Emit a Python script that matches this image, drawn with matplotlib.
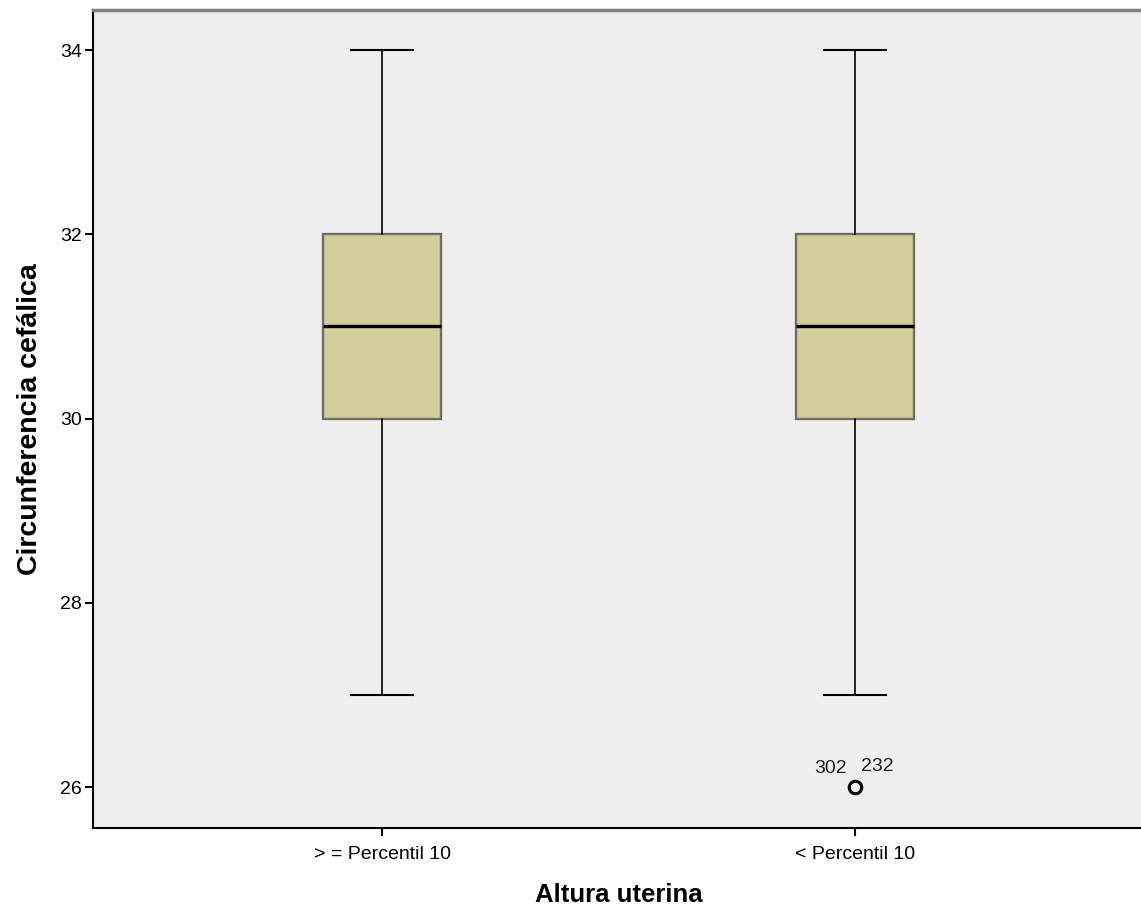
import matplotlib
matplotlib.use("Agg")
import matplotlib.pyplot as plt

plt.rcParams['font.family'] = ['Liberation Sans', 'DejaVu Sans']

# datos
grupos = ['> = Percentil 10', '< Percentil 10']
mediana = [31, 31]
q1 = [30, 30]
q3 = [32, 32]
bigote_inf = [27, 27]
bigote_sup = [34, 34]
atipicos = [[], [26]]
etiquetas_atipicos = [[], ['302', '232']]

stats = []
for i in range(len(grupos)):
    stats.append({'med': mediana[i], 'q1': q1[i], 'q3': q3[i],
                  'whislo': bigote_inf[i], 'whishi': bigote_sup[i],
                  'fliers': atipicos[i], 'label': grupos[i]})

fig = plt.figure(figsize=(11.41, 9.17), dpi=100)
ax = fig.add_axes([93/1141, 89/917, 1 - 93/1141 + 3/1141, 818/917])
ax.set_facecolor('#efefef')

pos = list(range(len(grupos)))
ax.bxp(stats, positions=pos, widths=0.25, patch_artist=True,
       boxprops=dict(facecolor='#d3ce98', edgecolor='#6e6e64', linewidth=1.7),
       medianprops=dict(color='black', linewidth=2.4),
       whiskerprops=dict(color='black', linewidth=1.2),
       capprops=dict(color='black', linewidth=1.5),
       capwidths=0.13,
       flierprops=dict(marker='o', markersize=9, markerfacecolor='none',
                       markeredgecolor='black', markeredgewidth=2.2))

# etiquetas de los casos atipicos
for i in range(len(grupos)):
    for v in atipicos[i]:
        labs = etiquetas_atipicos[i]
        ax.annotate(labs[0], (pos[i], v), xytext=(-6, 7), textcoords='offset points',
                    ha='right', va='bottom', fontsize=14, color='#222222')
        ax.annotate(labs[1], (pos[i], v), xytext=(4, 9), textcoords='offset points',
                    ha='left', va='bottom', fontsize=14, color='#222222')

ax.set_xlim(-0.611, 1.611)
ax.set_ylim(25.555, 34.435)
ax.set_yticks([26, 28, 30, 32, 34])
ax.set_xticks(pos)
ax.set_xticklabels(grupos)
ax.tick_params(axis='both', labelsize=14, colors='black', width=1.5, length=6)
ax.tick_params(axis='x', pad=7)
ax.tick_params(axis='y', pad=2)

ax.spines['right'].set_visible(False)
ax.spines['top'].set_color('#808080')
ax.spines['top'].set_linewidth(2.5)
ax.spines['left'].set_linewidth(1.5)
ax.spines['bottom'].set_linewidth(1.5)

ax.set_xlabel('Altura uterina', fontsize=18.5, fontweight='bold', labelpad=14)
ax.set_ylabel('Circunferencia cefálica', fontsize=20.5, fontweight='bold', labelpad=12)

fig.savefig('out.png', dpi=100)
